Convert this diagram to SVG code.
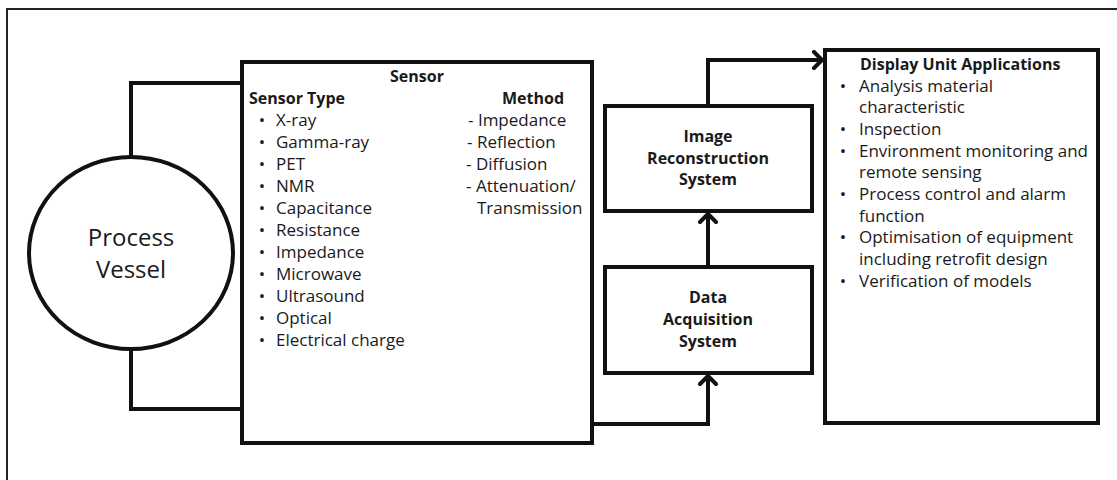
<svg xmlns="http://www.w3.org/2000/svg" width="1117" height="480" viewBox="0 0 1117 480">
<style>
.box{fill:#fff;stroke:#111;stroke-width:4}
.frame{fill:none;stroke:#222;stroke-width:2}
.conn{fill:none;stroke:#111;stroke-width:4;stroke-linejoin:miter}
text{font-family:"Open Sans","Liberation Sans",sans-serif;fill:#1a1a1a}
.t{font-size:17px}
.b{font-size:16px;font-weight:700}
.big{font-size:24px}
.m{text-anchor:middle}
</style>
<defs>
<marker id="chev" viewBox="-2 -2 16 20" refX="10" refY="8" markerWidth="16" markerHeight="20" markerUnits="userSpaceOnUse" orient="auto">
<path d="M2,0 L10,8 L2,16" fill="none" stroke="#111" stroke-width="4" stroke-linecap="round" stroke-linejoin="round"/>
</marker>
</defs>
<rect width="1117" height="480" fill="#fff"/>
<path class="frame" d="M7,481 V9 H1118"/>

<g id="connectors">
<path class="conn" d="M131,157 V83 H242"/>
<path class="conn" d="M131,349 V409 H242"/>
<path class="conn" d="M593,424 H708 V376" marker-end="url(#chev)"/>
<path class="conn" d="M708,267 V214" marker-end="url(#chev)"/>
<path class="conn" d="M708,106 V60 H822" marker-end="url(#chev)"/>
</g>

<g id="process-vessel">
<ellipse class="box" cx="131" cy="253" rx="102" ry="96"/>
<text class="big m" x="131" y="246">Process</text>
<text class="big m" x="131" y="278">Vessel</text>
</g>

<g id="sensor">
<rect class="box" x="242" y="62" width="350" height="381"/>
<text class="b m" x="417" y="82">Sensor</text>
<text class="b" x="249" y="104">Sensor Type</text>
<text class="b" x="502" y="104">Method</text>
<g class="t">
<text class="m" x="262" y="126">•</text><text x="276" y="126">X-ray</text>
<text class="m" x="262" y="148">•</text><text x="276" y="148">Gamma-ray</text>
<text class="m" x="262" y="170">•</text><text x="276" y="170">PET</text>
<text class="m" x="262" y="192">•</text><text x="276" y="192">NMR</text>
<text class="m" x="262" y="214">•</text><text x="276" y="214">Capacitance</text>
<text class="m" x="262" y="236">•</text><text x="276" y="236">Resistance</text>
<text class="m" x="262" y="258">•</text><text x="276" y="258">Impedance</text>
<text class="m" x="262" y="280">•</text><text x="276" y="280">Microwave</text>
<text class="m" x="262" y="302">•</text><text x="276" y="302">Ultrasound</text>
<text class="m" x="262" y="324">•</text><text x="276" y="324">Optical</text>
<text class="m" x="262" y="346">•</text><text x="276" y="346">Electrical charge</text>
<text x="468" y="126">- Impedance</text>
<text x="467" y="148">- Reflection</text>
<text x="466" y="170">- Diffusion</text>
<text x="466" y="192">- Attenuation/</text>
<text x="477" y="214">Transmission</text>
</g>
</g>

<g id="image-reconstruction">
<rect class="box" x="605" y="106" width="207" height="105"/>
<text class="b m" x="708" y="142">Image</text>
<text class="b m" x="708" y="164">Reconstruction</text>
<text class="b m" x="708" y="185">System</text>
</g>

<g id="data-acquisition">
<rect class="box" x="605" y="267" width="207" height="106"/>
<text class="b m" x="708" y="303">Data</text>
<text class="b m" x="708" y="325">Acquisition</text>
<text class="b m" x="708" y="347">System</text>
</g>

<g id="display-unit">
<rect class="box" x="825" y="50" width="273" height="373"/>
<text class="b" x="860" y="70">Display Unit Applications</text>
<g class="t">
<text class="m" x="843" y="92">•</text><text x="859" y="92">Analysis material</text>
<text x="859" y="113">characteristic</text>
<text class="m" x="843" y="135">•</text><text x="859" y="135">Inspection</text>
<text class="m" x="843" y="157">•</text><text x="859" y="157">Environment monitoring and</text>
<text x="859" y="178">remote sensing</text>
<text class="m" x="843" y="200">•</text><text x="859" y="200">Process control and alarm</text>
<text x="859" y="222">function</text>
<text class="m" x="843" y="243">•</text><text x="859" y="243">Optimisation of equipment</text>
<text x="859" y="265">including retrofit design</text>
<text class="m" x="843" y="287">•</text><text x="859" y="287">Verification of models</text>
</g>
</g>
</svg>
